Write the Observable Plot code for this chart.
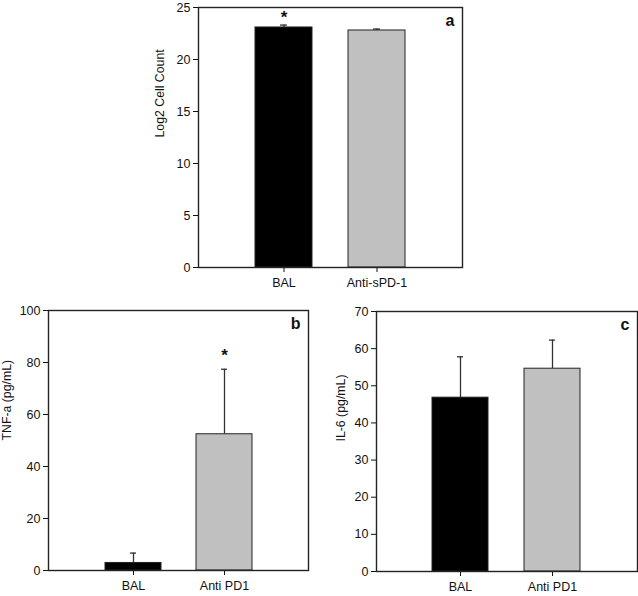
<!DOCTYPE html>
<html>
<head>
<meta charset="utf-8">
<script src="https://cdn.jsdelivr.net/npm/d3@7"></script>
<script src="https://cdn.jsdelivr.net/npm/@observablehq/plot@0.6"></script>
<style>
  html, body { margin: 0; padding: 0; background: white; }
  #root { position: relative; width: 638px; height: 596px; overflow: hidden; background: white; }
  .panel { position: absolute; }
</style>
</head>
<body>
<div id="root"></div>
<script>
// ---- Data ----
const panelA_categories = ["BAL", "Anti-sPD-1"];
const panelA_means = [23.08, 22.79];
const panelA_errors = [0.23, 0.14];
const panelA_stars = ["*", ""];
const panelA_starY = [24.4, null];
const panelA_ticks = [0, 5, 10, 15, 20, 25];

const panelB_categories = ["BAL", "Anti PD1"];
const panelB_means = [2.9, 52.4];
const panelB_errors = [3.8, 25.0];
const panelB_stars = ["", "*"];
const panelB_starY = [null, 84.2];
const panelB_ticks = [0, 20, 40, 60, 80, 100];

const panelC_categories = ["BAL", "Anti PD1"];
const panelC_means = [46.8, 54.6];
const panelC_errors = [11.0, 7.7];
const panelC_stars = ["", ""];
const panelC_starY = [null, null];
const panelC_ticks = [0, 10, 20, 30, 40, 50, 60, 70];

const barFills = ["#000000", "#c0c0c0"];

function makePanel(cfg) {
  const rows = cfg.categories.map((c, i) => ({
    cat: c,
    mean: cfg.means[i],
    top: cfg.means[i] + cfg.errors[i],
    fill: barFills[i],
    star: cfg.stars[i],
    starY: cfg.starY[i]
  }));
  const starRows = rows.filter(d => d.star);
  const plot = Plot.plot({
    width: cfg.width,
    height: cfg.height,
    marginLeft: cfg.ml,
    marginRight: cfg.mr,
    marginTop: cfg.mt,
    marginBottom: cfg.mb,
    style: { fontFamily: "'Liberation Sans', Arial, sans-serif", fontSize: "12px", color: "#111", background: "white", overflow: "visible" },
    x: { domain: cfg.categories, paddingInner: 0.387, paddingOuter: 0.607, align: 0.5 },
    y: { domain: [0, cfg.ymax] },
    marks: [
      Plot.ruleX(rows, { x: "cat", y1: "mean", y2: "top", stroke: "#333", strokeWidth: 1.3 }),
      Plot.tickY(rows, { x: "cat", y: "top", stroke: "#333", strokeWidth: 1.3, insetLeft: 25, insetRight: 25 }),
      Plot.barY(rows, { x: "cat", y: "mean", fill: "fill", stroke: "#222", strokeWidth: 1 }),
      Plot.text(starRows, { x: "cat", y: "starY", text: "star", fontSize: 17, fontWeight: "bold", fill: "#111", dy: 4 }),
      Plot.text([cfg.letter], { frameAnchor: "top-right", textAnchor: "end", lineAnchor: "top", dx: -8, dy: 7, fontSize: 16, fontWeight: "bold", fill: "#111" }),
      Plot.text([cfg.ylabel], { frameAnchor: "left", rotate: -90, dx: -cfg.labelOffset, fontSize: 12.3, fill: "#111" }),
      Plot.axisY({ ticks: cfg.ticks, tickSize: 5, tickPadding: 3, fontSize: 12.5, label: null }),
      Plot.axisX({ tickSize: 5, tickPadding: 6, label: null, fontSize: 12.5 }),
      Plot.frame({ stroke: "#222", strokeWidth: 1.4 })
    ]
  });
  plot.classList.add("panel");
  plot.style.left = cfg.left + "px";
  plot.style.top = cfg.top + "px";
  document.getElementById("root").appendChild(plot);
}

makePanel({
  categories: panelA_categories, means: panelA_means, errors: panelA_errors,
  stars: panelA_stars, starY: panelA_starY, ticks: panelA_ticks, ymax: 25,
  ylabel: "Log2 Cell Count", letter: "a", labelOffset: 38,
  left: 140, top: 0, width: 330, height: 300, ml: 58, mr: 8, mt: 7, mb: 33
});
makePanel({
  categories: panelB_categories, means: panelB_means, errors: panelB_errors,
  stars: panelB_stars, starY: panelB_starY, ticks: panelB_ticks, ymax: 100,
  ylabel: "TNF-a (pg/mL)", letter: "b", labelOffset: 41,
  left: 0, top: 290, width: 318, height: 306, ml: 48, mr: 10, mt: 20, mb: 26
});
makePanel({
  categories: panelC_categories, means: panelC_means, errors: panelC_errors,
  stars: panelC_stars, starY: panelC_starY, ticks: panelC_ticks, ymax: 70,
  ylabel: "IL-6 (pg/mL)", letter: "c", labelOffset: 35,
  left: 318, top: 290, width: 320, height: 306, ml: 58, mr: 1, mt: 21, mb: 25
});
</script>
</body>
</html>
